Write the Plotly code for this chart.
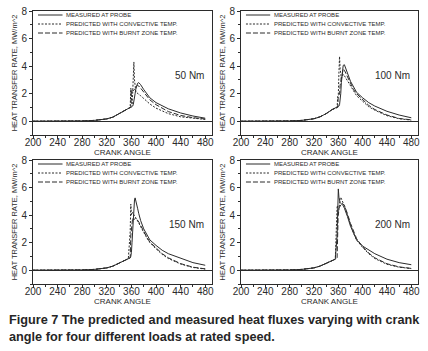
import plotly.graph_objects as go
from plotly.subplots import make_subplots

# ---------------- data ----------------
crank_angle = [200, 240, 280, 300, 320, 330, 340, 350, 355, 358, 359, 360, 361, 362, 363,
               364, 365, 366, 367, 368, 370, 372, 375, 380, 385, 390, 400, 410, 420, 440,
               460, 480]

loads = ["50 Nm", "100 Nm", "150 Nm", "200 Nm"]

measured_50 = [0, 0, 0.02, 0.06, 0.17, 0.3, 0.55, 0.85, 0.95, 1.0, 1.0, 1.02, 1.05, 1.1, 1.2,
               1.4, 1.7, 2.0, 2.3, 2.5, 2.75, 2.8, 2.65, 2.3, 1.95, 1.7, 1.35, 1.1, 0.9, 0.6,
               0.38, 0.22]
convective_50 = [0, 0, 0.02, 0.06, 0.17, 0.3, 0.55, 0.85, 0.95, 1.0, 2.4, 1.3, 1.2, 2.0, 3.5,
                 4.3, 3.0, 2.4, 2.2, 2.1, 2.0, 1.95, 1.85, 1.65, 1.45, 1.25, 0.95, 0.72, 0.55,
                 0.32, 0.2, 0.13]
burnt_50 = [0, 0, 0.02, 0.06, 0.17, 0.3, 0.55, 0.85, 0.95, 1.0, 1.0, 2.3, 2.2, 2.2, 2.2,
            2.25, 2.3, 2.4, 2.5, 2.55, 2.6, 2.55, 2.4, 2.1, 1.8, 1.55, 1.2, 0.92, 0.7, 0.42,
            0.26, 0.16]

measured_100 = [0, 0, 0.02, 0.06, 0.18, 0.32, 0.55, 0.85, 0.95, 1.0, 1.02, 1.05, 1.1, 1.2, 1.5,
                2.0, 2.8, 3.5, 3.9, 4.05, 4.1, 3.9, 3.5, 2.9, 2.45, 2.1, 1.7, 1.35, 1.1, 0.72,
                0.45, 0.25]
convective_100 = [0, 0, 0.02, 0.06, 0.18, 0.32, 0.55, 0.85, 0.95, 1.0, 1.8, 1.9, 3.5, 4.7, 3.8,
                  3.2, 3.1, 3.2, 3.3, 3.4, 3.3, 3.15, 2.9, 2.5, 2.15, 1.85, 1.45, 1.05, 0.8,
                  0.4, 0.18, 0.08]
burnt_100 = [0, 0, 0.02, 0.06, 0.18, 0.32, 0.55, 0.85, 0.95, 1.0, 1.0, 1.9, 1.9, 1.95, 2.6,
             3.0, 3.2, 3.3, 3.6, 3.8, 3.7, 3.5, 3.2, 2.7, 2.3, 2.0, 1.55, 1.15, 0.85, 0.45,
             0.2, 0.1]

measured_150 = [0, 0, 0.02, 0.06, 0.17, 0.3, 0.5, 0.75, 0.85, 0.9, 1.0, 1.3, 2.0, 3.0, 3.9,
                4.6, 5.1, 5.25, 5.1, 4.9, 4.5, 4.1, 3.6, 3.0, 2.55, 2.2, 1.8, 1.45, 1.2, 0.85,
                0.55, 0.36]
convective_150 = [0, 0, 0.02, 0.06, 0.17, 0.3, 0.5, 0.75, 0.85, 2.8, 4.8, 4.0, 4.1, 4.2, 4.1,
                  4.0, 3.9, 3.85, 3.8, 3.75, 3.6, 3.45, 3.2, 2.75, 2.35, 2.0, 1.55, 1.15, 0.85,
                  0.45, 0.2, 0.08]
burnt_150 = [0, 0, 0.02, 0.06, 0.17, 0.3, 0.5, 0.75, 0.85, 0.9, 2.5, 3.2, 3.6, 3.8, 3.7,
             3.65, 3.7, 3.75, 3.8, 3.75, 3.65, 3.5, 3.25, 2.8, 2.4, 2.05, 1.6, 1.2, 0.9, 0.48,
             0.22, 0.1]

measured_200 = [0, 0, 0.02, 0.06, 0.17, 0.3, 0.48, 0.7, 0.8, 2.5, 4.5, 5.9, 5.3, 5.0, 4.9,
                4.85, 4.82, 4.8, 4.75, 4.7, 4.5, 4.3, 3.9, 3.2, 2.65, 2.2, 1.75, 1.45, 1.2, 0.8,
                0.55, 0.4]
convective_200 = [0, 0, 0.02, 0.06, 0.17, 0.3, 0.48, 0.7, 0.8, 4.6, 4.7, 4.0, 4.5, 5.0, 5.2,
                  5.3, 5.2, 5.1, 5.0, 4.9, 4.7, 4.45, 4.0, 3.3, 2.7, 2.2, 1.65, 1.2, 0.85,
                  0.43, 0.22, 0.12]
burnt_200 = [0, 0, 0.02, 0.06, 0.17, 0.3, 0.48, 0.7, 0.8, 0.9, 3.5, 4.4, 4.5, 4.6, 4.7,
             4.75, 4.8, 4.85, 4.85, 4.8, 4.7, 4.5, 4.1, 3.4, 2.8, 2.3, 1.7, 1.25, 0.9, 0.47,
             0.24, 0.13]

measured = [measured_50, measured_100, measured_150, measured_200]
convective = [convective_50, convective_100, convective_150, convective_200]
burnt = [burnt_50, burnt_100, burnt_150, burnt_200]

series_names = ["MEASURED AT PROBE", "PREDICTED WITH CONVECTIVE TEMP.",
                "PREDICTED WITH BURNT ZONE TEMP."]

x_ticks = [200, 240, 280, 320, 360, 400, 440, 480]
y_ticks = [0, 2, 4, 6, 8]

# ---------------- styles ----------------
INK = "#2b2b2b"
FONT = "Liberation Sans, Arial, sans-serif"
dashes = ["solid", "2px,1.5px", "5px,2px"]

W, H = 428, 351
fig = make_subplots(rows=2, cols=2)

col_dom = [[33 / W, 212 / W], [241 / W, 418 / W]]
row_dom = [[1 - 135 / H, 1 - 11 / H], [1 - 284 / H, 1 - 160 / H]]

positions = [(1, 1), (1, 2), (2, 1), (2, 2)]
for i, (r, c) in enumerate(positions):
    for s, vals in enumerate([measured[i], convective[i], burnt[i]]):
        fig.add_trace(go.Scatter(x=crank_angle, y=vals, mode="lines",
                                 name=series_names[s], showlegend=False, hoverinfo="skip",
                                 line=dict(color=INK, width=1, dash=dashes[s])),
                      row=r, col=c)
    fig.update_xaxes(domain=col_dom[c - 1], range=[200, 491], tickvals=x_ticks,
                     ticks="outside", ticklen=3, tickcolor=INK, showline=True, mirror=True,
                     linecolor=INK, linewidth=1, showgrid=False, zeroline=False,
                     automargin=False, ticklabelstandoff=-5,
                     tickfont=dict(family=FONT, size=10, color=INK),
                     minor=dict(dtick=20, tick0=200, ticks="outside", ticklen=2, tickcolor=INK),
                     title=dict(text="CRANK ANGLE", standoff=0,
                                font=dict(family=FONT, size=8, color=INK)),
                     row=r, col=c)
    fig.update_yaxes(domain=row_dom[r - 1], range=[-1, 8], tickvals=y_ticks,
                     ticks="outside", ticklen=3, tickcolor=INK, showline=True, mirror=True,
                     linecolor=INK, linewidth=1, showgrid=False, zeroline=True,
                     zerolinecolor=INK, zerolinewidth=1, automargin=False,
                     tickfont=dict(family=FONT, size=10, color=INK),
                     minor=dict(dtick=1, tick0=0, ticks="outside", ticklen=2, tickcolor=INK),
                     title=dict(text="HEAT TRANSFER RATE, MW/m^2", standoff=2,
                                font=dict(family=FONT, size=7.5, color=INK)),
                     row=r, col=c)

    ax = "" if i == 0 else str(i + 1)
    xd, yd = f"x{ax} domain", f"y{ax} domain"
    # manual legend in each panel
    for s in range(3):
        yy = (124 - (4 + 9 * s)) / 124
        fig.add_shape(type="line", xref=xd, yref=yd, x0=0.028, x1=0.165, y0=yy, y1=yy,
                      line=dict(color=INK, width=1, dash=dashes[s]))
        fig.add_annotation(xref=xd, yref=yd, x=0.175, y=yy, text=series_names[s],
                           showarrow=False, xanchor="left", yanchor="middle",
                           font=dict(family=FONT, size=6, color=INK))
    # load label
    fig.add_annotation(xref=f"x{ax}", yref=f"y{ax}", x=481, y=3.3, text=loads[i],
                       showarrow=False, xanchor="right", yanchor="middle",
                       font=dict(family=FONT, size=10, color=INK))

fig.add_annotation(xref="paper", yref="paper", x=7 / W, y=1 - 311 / H,
                   xanchor="left", yanchor="top", align="left", showarrow=False,
                   text="Figure 7 The predicted and measured heat fluxes varying with crank"
                        "<br>angle for four different loads at rated speed.",
                   font=dict(family=FONT, size=12.7, color="#262626", weight="bold"))

fig.update_layout(width=W, height=H, margin=dict(l=0, r=0, t=0, b=0, autoexpand=False),
                  paper_bgcolor="white", plot_bgcolor="white", showlegend=False,
                  hovermode=False)

fig.write_html("out.html", config={"displayModeBar": False},
               post_script="document.body.style.margin='0';")
